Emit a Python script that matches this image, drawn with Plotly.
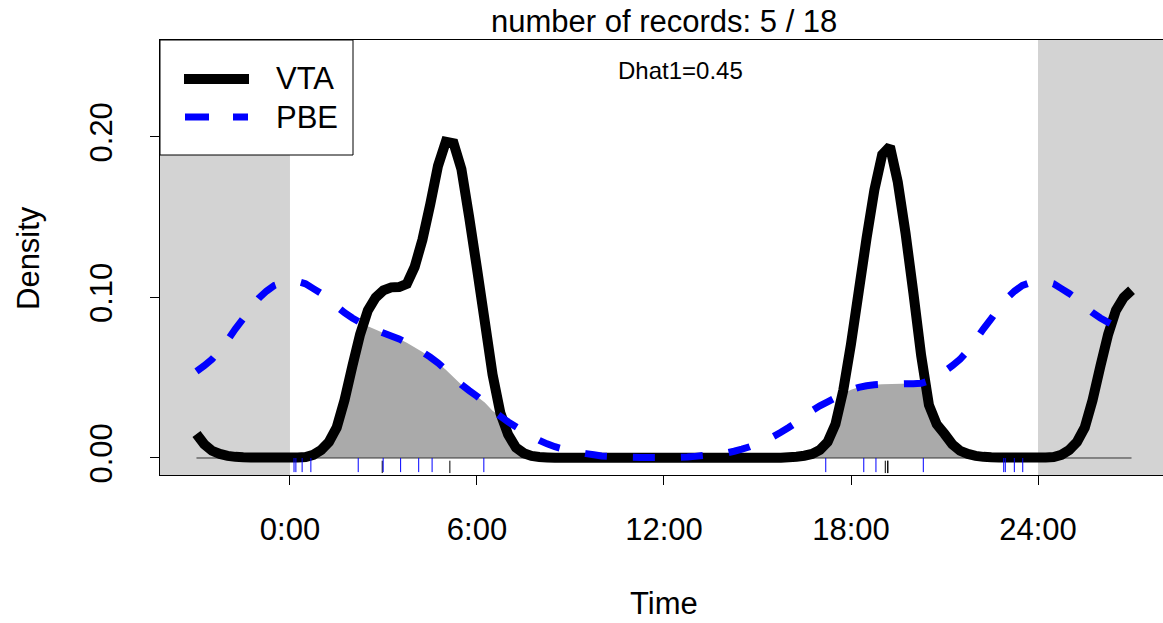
import numpy as np
import plotly.graph_objects as go

# ---------------- data ----------------
step = 0.25
grid = np.arange(0, 24, step)  # 0 .. 23.75 h

vta_density = [
    0.0003, 0.0003, 0.0006, 0.0020, 0.0050, 0.0100, 0.0190, 0.0360,   # 0-1.75
    0.0570, 0.0770, 0.0920, 0.1000, 0.1045, 0.1063, 0.1065, 0.1085,   # 2-3.75
    0.1190, 0.1360, 0.1580, 0.1820, 0.1970, 0.1960, 0.1800, 0.1500,   # 4-5.75
    0.1180, 0.0850, 0.0520, 0.0280, 0.0145, 0.0065, 0.0030, 0.0013,   # 6-7.75
    0.0006, 0.0003, 0.0001, 0.0001, 0.0001, 0.0001, 0.0001, 0.0001,   # 8-9.75
    0.0001, 0.0001, 0.0001, 0.0001, 0.0001, 0.0001, 0.0001, 0.0001,   # 10-11.75
    0.0001, 0.0001, 0.0001, 0.0001, 0.0001, 0.0001, 0.0001, 0.0001,   # 12-13.75
    0.0001, 0.0001, 0.0001, 0.0001, 0.0001, 0.0001, 0.0001, 0.0001,   # 14-15.75
    0.0004, 0.0008, 0.0014, 0.0025, 0.0050, 0.0100, 0.0210, 0.0420,   # 16-17.75
    0.0710, 0.1040, 0.1370, 0.1670, 0.1890, 0.1940, 0.1720, 0.1400,   # 18-19.75
    0.1030, 0.0640, 0.0330, 0.0210, 0.0150, 0.0085, 0.0045, 0.0025,   # 20-21.75
    0.0013, 0.0007, 0.0004, 0.0003, 0.0003, 0.0003, 0.0003, 0.0003,   # 22-23.75
]

pbe_density = [
    0.1100, 0.1099, 0.1085, 0.1055, 0.1025, 0.0990, 0.0945, 0.0905,   # 0-1.75
    0.0872, 0.0845, 0.0820, 0.0797, 0.0778, 0.0760, 0.0742, 0.0718,   # 2-3.75
    0.0690, 0.0660, 0.0628, 0.0592, 0.0550, 0.0505, 0.0457, 0.0420,   # 4-5.75
    0.0385, 0.0345, 0.0295, 0.0260, 0.0225, 0.0195, 0.0165, 0.0135,   # 6-7.75
    0.0110, 0.0088, 0.0070, 0.0057, 0.0045, 0.0035, 0.0027, 0.0020,   # 8-9.75
    0.0013, 0.0010, 0.0007, 0.0005, 0.0004, 0.0003, 0.0003, 0.0003,   # 10-11.75
    0.0003, 0.0003, 0.0004, 0.0006, 0.0010, 0.0015, 0.0020, 0.0025,   # 12-13.75
    0.0031, 0.0042, 0.0055, 0.0070, 0.0090, 0.0112, 0.0133, 0.0160,   # 14-15.75
    0.0190, 0.0222, 0.0258, 0.0295, 0.0325, 0.0350, 0.0375, 0.0400,   # 16-17.75
    0.0425, 0.0440, 0.0450, 0.0456, 0.0459, 0.0460, 0.0461, 0.0462,   # 18-19.75
    0.0463, 0.0465, 0.0480, 0.0510, 0.0540, 0.0575, 0.0615, 0.0670,   # 20-21.75
    0.0735, 0.0805, 0.0868, 0.0935, 0.0995, 0.1040, 0.1075, 0.1092,   # 22-23.75
]

vta_times = [2.96, 5.13, 19.10, 19.18, 19.18]
pbe_times = [0.13, 0.19, 0.39, 0.67, 2.19, 2.99, 3.55, 4.13, 4.56, 6.22,
             17.19, 18.41, 18.80, 20.32, 22.90, 22.95, 23.24, 23.51]

x_tick_vals = [0, 6, 12, 18, 24]
x_tick_text = ["0:00", "6:00", "12:00", "18:00", "24:00"]
y_tick_vals = [0.0, 0.1, 0.2]
y_tick_text = ["0.00", "0.10", "0.20"]

series_names = ["VTA", "PBE"]
title_text = "number of records: 5 / 18"
dhat_text = "Dhat1=0.45"
extend = 3.0  # hours shown beyond 0-24 on each side

# ---------------- derived ----------------
vta = np.array(vta_density)
pbe = np.array(pbe_density)
g24 = np.append(grid, 24.0)
vta24 = np.append(vta, vta[0])
pbe24 = np.append(pbe, pbe[0])

left = grid >= 24 - extend
right = g24 <= extend
t_ext = np.concatenate([grid[left] - 24, g24, g24[right][1:] + 24])
vta_ext = np.concatenate([vta[left], vta24, vta24[right][1:]])
pbe_ext = np.concatenate([pbe[left], pbe24, pbe24[right][1:]])
overlap = np.minimum(vta24, pbe24)

X0, X1 = -4.17, 28.01
Y0, Y1 = -0.0106, 0.2604
FONT = "Liberation Sans, Arial, Helvetica, sans-serif"
FS = 31
DASH = "22px,26px"

fig = go.Figure()

# overlap polygon
fig.add_trace(go.Scatter(x=g24, y=overlap, mode="lines", line=dict(width=0),
                         fill="tozeroy", fillcolor="#AAAAAA", hoverinfo="skip",
                         showlegend=False))
# baseline
fig.add_trace(go.Scatter(x=[t_ext[0], t_ext[-1]], y=[0, 0], mode="lines",
                         line=dict(color="#333333", width=1), showlegend=False))
# VTA solid
fig.add_trace(go.Scatter(x=t_ext, y=vta_ext, mode="lines", name=series_names[0],
                         line=dict(color="black", width=10, simplify=False),
                         showlegend=False))
# PBE dashed (drawn on top)
fig.add_trace(go.Scatter(x=t_ext, y=pbe_ext, mode="lines", name=series_names[1],
                         line=dict(color="#0000FF", width=7, dash=DASH, simplify=False),
                         showlegend=False))

# rugs
def rug(times, y0, y1):
    xs, ys = [], []
    for t in times:
        xs += [t, t, None]
        ys += [y0, y1, None]
    return xs, ys

bx, by = rug(vta_times, -0.0017, -0.0094)
fig.add_trace(go.Scatter(x=bx, y=by, mode="lines", line=dict(color="black", width=1),
                         showlegend=False, hoverinfo="skip"))
px_, py_ = rug(pbe_times, 0.0, -0.0088)
fig.add_trace(go.Scatter(x=px_, y=py_, mode="lines", line=dict(color="#0000FF", width=1),
                         showlegend=False, hoverinfo="skip"))

shapes = [
    dict(type="rect", xref="x", yref="paper", x0=X0, x1=0, y0=0, y1=1,
         fillcolor="#D3D3D3", line=dict(width=0), layer="below"),
    dict(type="rect", xref="x", yref="paper", x0=24, x1=X1, y0=0, y1=1,
         fillcolor="#D3D3D3", line=dict(width=0), layer="below"),
]

# legend (manual)
W, H, L, T = 1163, 623, 160, 40
PW, PH = W - L, 475 - T
def px(xp):
    return (xp - L) / PW
def py(yp):
    return (475 - yp) / PH

shapes.append(dict(type="rect", xref="paper", yref="paper", x0=px(160), x1=px(353),
                   y0=py(155), y1=py(40), fillcolor="white",
                   line=dict(color="black", width=1), layer="above"))
shapes.append(dict(type="line", xref="paper", yref="paper", x0=px(184), x1=px(249),
                   y0=py(79), y1=py(79), line=dict(color="black", width=10), layer="above"))
shapes.append(dict(type="line", xref="paper", yref="paper", x0=px(185), x1=px(248),
                   y0=py(117), y1=py(117),
                   line=dict(color="#0000FF", width=7, dash="24px,24px"), layer="above"))

annotations = [
    dict(text=series_names[0], xref="paper", yref="paper", x=px(274), y=py(79),
         xanchor="left", yanchor="middle", showarrow=False,
         font=dict(size=FS, color="black", family=FONT)),
    dict(text=series_names[1], xref="paper", yref="paper", x=px(274), y=py(117),
         xanchor="left", yanchor="middle", showarrow=False,
         font=dict(size=FS, color="black", family=FONT)),
    dict(text=title_text, xref="x", yref="paper", x=12, y=py(22),
         xanchor="center", yanchor="middle", showarrow=False,
         font=dict(size=FS, color="black", family=FONT)),
    dict(text=dhat_text, xref="x", yref="paper", x=12.53, y=py(71),
         xanchor="center", yanchor="middle", showarrow=False,
         font=dict(size=24, color="black", family=FONT)),
    dict(text="Time", xref="x", yref="paper", x=12, y=py(603),
         xanchor="center", yanchor="middle", showarrow=False,
         font=dict(size=FS, color="black", family=FONT)),
    dict(text="Density", xref="paper", yref="paper", x=px(28), y=py(258),
         xanchor="center", yanchor="middle", showarrow=False, textangle=-90,
         font=dict(size=FS, color="black", family=FONT)),
]

fig.update_layout(
    width=W, height=H,
    margin=dict(l=L, r=0, t=T, b=H - 475, pad=0),
    paper_bgcolor="white", plot_bgcolor="white",
    shapes=shapes, annotations=annotations, showlegend=False,
    font=dict(family=FONT, size=FS, color="black"),
    xaxis=dict(range=[X0, X1], showgrid=False, zeroline=False,
               showline=True, linecolor="black", linewidth=1, mirror=True,
               ticks="outside", ticklen=9, tickwidth=1, tickcolor="black",
               tickvals=x_tick_vals, ticktext=x_tick_text, ticklabelstandoff=18,
               tickfont=dict(size=FS, family=FONT, color="black")),
    yaxis=dict(range=[Y0, Y1], showgrid=False, zeroline=False,
               showline=True, linecolor="black", linewidth=1, mirror=False,
               ticks="outside", ticklen=9, tickwidth=1, tickcolor="black",
               tickvals=y_tick_vals, ticktext=y_tick_text, tickangle=-90,
               ticklabelstandoff=26,
               tickfont=dict(size=FS, family=FONT, color="black")),
)

fig.write_html("out.html")
